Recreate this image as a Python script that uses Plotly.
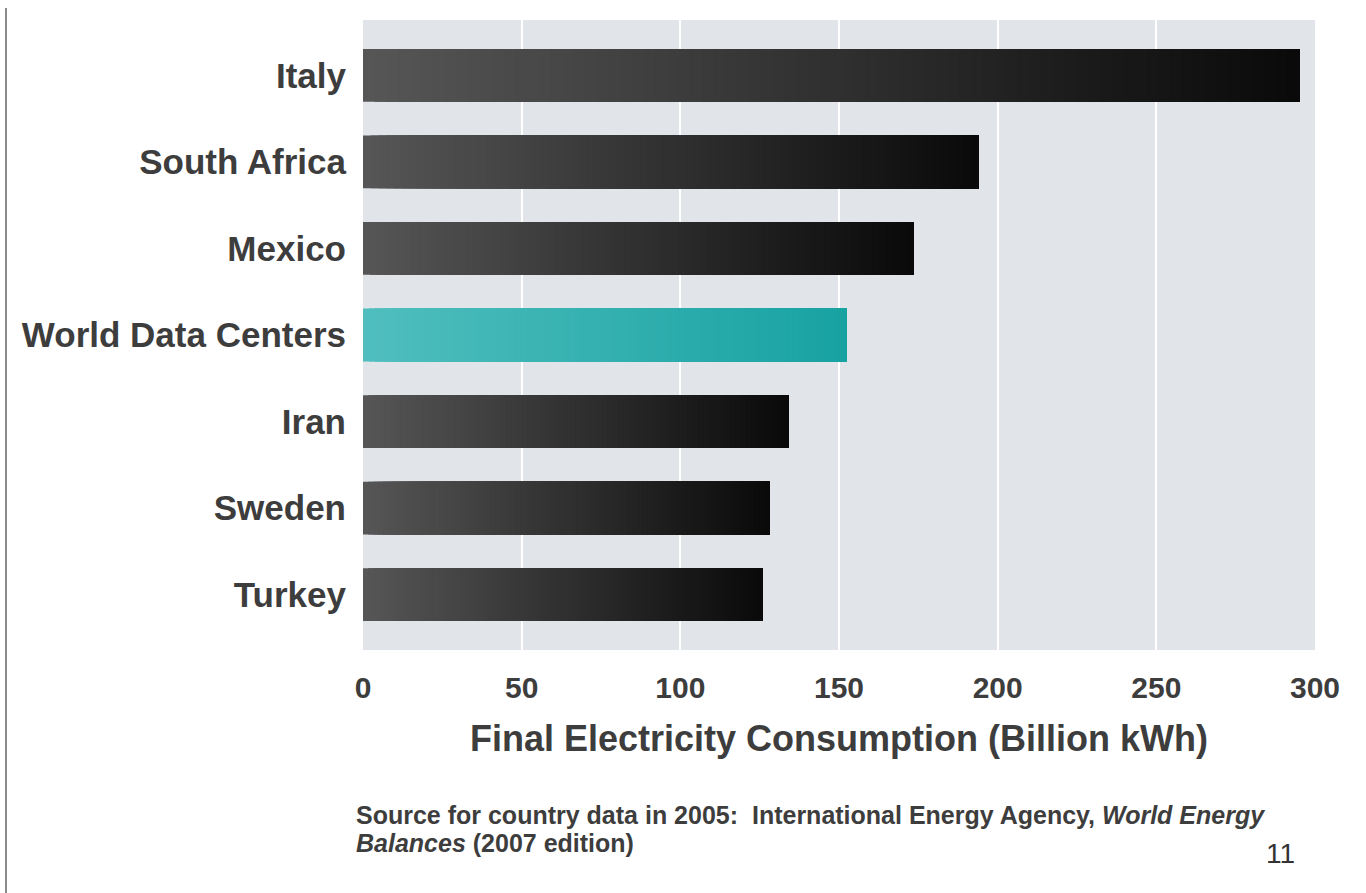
import plotly.graph_objects as go

# ---- data ----
categories = ["Italy", "South Africa", "Mexico", "World Data Centers", "Iran", "Sweden", "Turkey"]
values = [295, 194, 173.5, 152.5, 134, 128, 126]
highlight = "World Data Centers"
x_ticks = [0, 50, 100, 150, 200, 250, 300]

# ---- layout geometry (pixels) ----
W, H = 1366, 893
L, R, T, B = 363, 51, 20, 243
PW, PH = W - L - R, H - T - B


def px(x):
    return (x - L) / PW


def py(y):
    return 1 - (y - T) / PH


def lerp(c1, c2, t):
    return "rgb(%d,%d,%d)" % tuple(round(a + (b - a) * t) for a, b in zip(c1, c2))


dark_start, dark_end = (86, 86, 86), (10, 10, 10)
teal_start, teal_end = (80, 190, 190), (24, 162, 162)

N = 80
fig = go.Figure()
for k in range(N):
    t = k / (N - 1)
    colors = [lerp(teal_start, teal_end, t) if c == highlight else lerp(dark_start, dark_end, t)
              for c in categories]
    fig.add_trace(go.Bar(
        y=categories,
        x=[v * (1 - k / N) for v in values],
        base=[v * k / N for v in values],
        orientation="h",
        marker=dict(color=colors, line=dict(width=0)),
        width=0.61,
        showlegend=False,
        hoverinfo="skip" if k else "x+y",
    ))

font_main = "Liberation Sans, Arial, sans-serif"
txt = "#3d3d3d"

fig.update_layout(
    width=W, height=H,
    margin=dict(l=L, r=R, t=T, b=B, pad=0),
    paper_bgcolor="white",
    plot_bgcolor="#e1e4e8",
    barmode="overlay",
    xaxis=dict(
        range=[0, 300],
        tickvals=x_ticks,
        ticktext=[str(v) for v in x_ticks],
        showgrid=True, gridcolor="white", gridwidth=2,
        zeroline=False, showline=False,
        tickfont=dict(family=font_main, size=30, color=txt, weight="bold"),
        ticks="", ticklabelstandoff=17,
        title=dict(text="<b>Final Electricity Consumption (Billion kWh)</b>",
                   font=dict(family=font_main, size=36, color=txt), standoff=22),
    ),
    yaxis=dict(
        categoryorder="array", categoryarray=categories[::-1],
        range=[-0.64, 6.64],
        showgrid=False, zeroline=False, showline=False,
        tickfont=dict(family=font_main, size=35, color=txt, weight="bold"),
        ticks="", ticklabelstandoff=16,
    ),
)

fig.add_shape(type="line", xref="paper", yref="paper",
              x0=px(6), x1=px(6), y0=py(8), y1=py(893),
              line=dict(color="#8a8a8a", width=2))

fig.add_annotation(
    xref="paper", yref="paper", x=px(354), y=py(815), xanchor="left", yanchor="middle",
    showarrow=False,
    text="<b>Source for country data in 2005:  International Energy Agency, <i>World Energy</i></b>",
    font=dict(family=font_main, size=25, color=txt),
)
fig.add_annotation(
    xref="paper", yref="paper", x=px(354), y=py(843), xanchor="left", yanchor="middle",
    showarrow=False,
    text="<b><i>Balances</i> (2007 edition)</b>",
    font=dict(family=font_main, size=25, color=txt),
)
fig.add_annotation(
    xref="paper", yref="paper", x=px(1280), y=py(853), xanchor="center", yanchor="middle",
    showarrow=False, text="11",
    font=dict(family=font_main, size=28, color="#333333"),
)

fig.write_html("out.html")
